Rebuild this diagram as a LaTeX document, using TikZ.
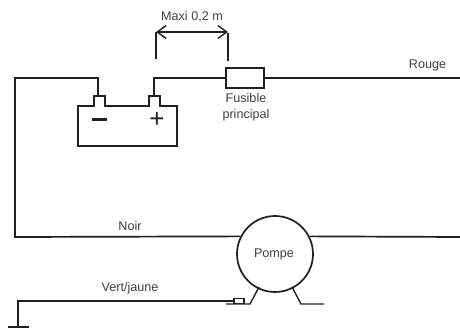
\documentclass[tikz,border=0pt]{standalone}
\usepackage{fontspec}
\usetikzlibrary{arrows.meta}
\setmainfont{Liberation Sans}
\definecolor{wire}{gray}{0.12}
\definecolor{labeltext}{gray}{0.25}
\tikzset{
  wireline/.style={draw=wire,line width=1.7pt},
  thinline/.style={draw=wire,line width=1.4pt},
  part/.style={draw=wire,line width=1.7pt,inner sep=0pt,fill=white},
  lbl/.style={text=labeltext,font=\fontsize{12.6}{16}\selectfont,inner sep=0pt,align=center},
  sign/.style={text=wire,font=\fontsize{26}{26}\selectfont,inner sep=0pt},
}
\begin{document}
\begin{tikzpicture}[x=1pt,y=-1pt]
\useasboundingbox (0,0) rectangle (460,329);
% battery
\draw[wireline] (78,146) -- (78,106) -- (94,106) -- (94,96) -- (105,96) -- (105,106)
  -- (149,106) -- (149,96) -- (160,96) -- (160,106) -- (177,106) -- (177,146) -- cycle;
\coordinate (neg) at (98,96);
\coordinate (pos) at (154,96);
\node[sign] (minus) at (99.5,119.5) {\rule{15pt}{2.2pt}};
\node[sign] (plus) at (157,119.5) {+};
% fuse
\node[part,minimum width=38pt,minimum height=20pt] (fuse) at (245,78) {};
\node[lbl] (fuselbl) at (246,107) {Fusible\\principal};
\coordinate (redend) at (460,78);
\node[lbl] (red) at (427.5,65.5) {Rouge};
% pump
\node[part,circle,minimum size=76pt] (pump) at (275,254) {};
\node[lbl] (pumplbl) at (274,254) {Pompe};
\coordinate (blackend) at (460,237);
\coordinate (corner) at (15,78);
\node[lbl] (black) at (130,226) {Noir};
\node[lbl] (green) at (130,288) {Vert/jaune};
% wires
\draw[wireline] (neg) |- (corner) -- (15,237) -- (pump.153);
\draw[wireline] (pump.27) -- (blackend);
\draw[wireline] (pos) |- (fuse.west);
\draw[wireline] (fuse.east) -- (redend);
% feet
\coordinate (footl) at (250,304);
\coordinate (footr) at (301,304);
\draw[thinline] (259,287) -- (footl) -- (226,304);
\draw[thinline] (292,287) -- (footr) -- (324,304);
% earth wire
\node[draw=wire,line width=1.2pt,inner sep=0pt,minimum width=10pt,minimum height=5pt] (lug) at (239,301) {};
\coordinate (earth) at (18,327);
\draw[wireline] (lug.west) -- (18,301) -- (earth);
\draw[wireline] (8,327) -- (29,327);
% distance
\coordinate (tickl) at (156,59);
\coordinate (tickr) at (228,61);
\node[lbl] (maxi) at (192,17) {Maxi 0,2 m};
\draw[thinline] (tickl) -- (156,32);
\draw[thinline] (tickr) -- (228,33);
\draw[thinline,{Straight Barb[length=9pt,width=13pt]}-{Straight Barb[length=9pt,width=13pt]}] (156,32) -- (228,32);
\end{tikzpicture}
\end{document}
